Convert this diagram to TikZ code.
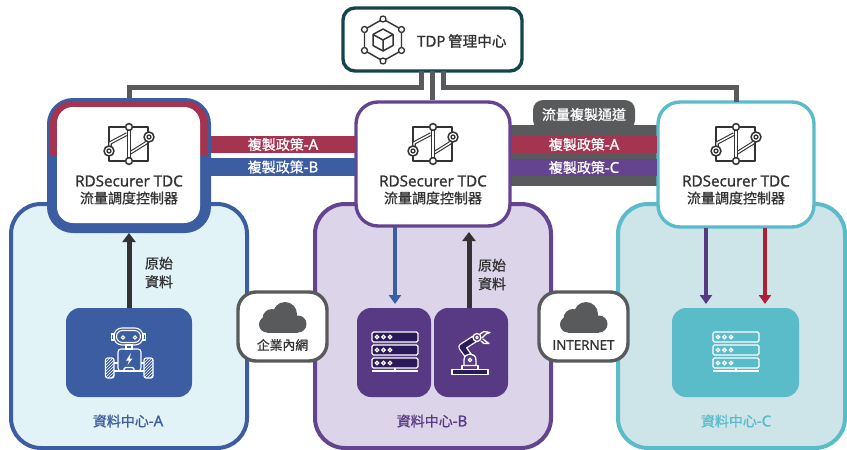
\documentclass[tikz,border=0pt]{standalone}
\usepackage{fontspec}
\setmainfont{Open Sans}
\newfontfamily\cjk[FakeBold=0.9]{Noto Sans CJK TC}
\newfontfamily\lat[FakeBold=1.5]{Open Sans}
\usetikzlibrary{arrows.meta,patterns}
\definecolor{ink}{HTML}{333335}
\definecolor{grayline}{HTML}{595A5C}
\definecolor{teal}{HTML}{14444C}
\definecolor{blueA}{HTML}{3C5DA1}
\definecolor{redA}{HTML}{A4344F}
\definecolor{purpleB}{HTML}{65448F}
\definecolor{purpleD}{HTML}{583A84}
\definecolor{purpleDD}{HTML}{2A1A5A}
\definecolor{cyanC}{HTML}{5BBCC9}
\definecolor{fillA}{HTML}{E2F3F8}
\definecolor{fillB}{HTML}{DCD4E8}
\definecolor{fillC}{HTML}{CDE4E9}
\definecolor{arrowRed}{HTML}{B01E36}
\tikzset{
  boxat/.style n args={4}{minimum width=#3-#1,minimum height=#4-#2,inner sep=0pt,outer sep=0pt},
  dcbox/.style={rectangle,rounded corners=30pt,line width=4pt},
  tdcbox/.style={rectangle,rounded corners=22pt,line width=3.4pt,fill=white},
  srcbox/.style={rectangle,rounded corners=14pt,inner sep=0pt},
  cloudbox/.style={rectangle,rounded corners=18pt,line width=3.4pt,draw=grayline,fill=white},
  trunk/.style={draw=grayline,line width=5pt},
  flow/.style={line width=3.8pt,-{Triangle[length=9pt,width=12pt]}},
  rawflow/.style={draw=ink,line width=5pt,-{Triangle[length=9pt,width=13pt]}},
  band/.style={rectangle,inner sep=0pt,text=white},
  zh/.style={font=\cjk\fontsize{14}{16}\selectfont},
  zhsmall/.style={font=\cjk\fontsize{12.8}{15}\selectfont},
  en/.style={font=\lat\fontsize{15.2}{16}\selectfont},
}
\newcommand{\lt}[1]{{\lat\fontsize{15}{16}\selectfont #1}}
% TDC icon centred on #1,#2
\newcommand{\tdcicon}[2]{%
  \begin{scope}[shift={(#1,#2)},line join=round]
    \draw[ink,line width=1.4pt] (-20,-17) rectangle (19,17);
    \foreach \pth in {{(-19,7) -- (-19,-1) -- (-2,-10)},{(20,-7) -- (17,-1) -- (1,9)},{(0,-17) -- (0,17)}}{
      \draw[ink,line width=3.6pt] \pth;
      \draw[white,line width=1.4pt] \pth;
    }
    \foreach \q in {-17,17}{\draw[ink,line width=1.5pt,fill=white] (0,\q) circle (3.4);}
    \foreach \p/\q in {-20/7,20/-7}{
      \draw[ink,line width=1.5pt,fill=white] (\p,\q) circle (5);
      \draw[ink,line width=1.3pt,fill=white] (\p,\q) circle (2);}
  \end{scope}}
% Server rack icon
\newcommand{\rackicon}[3]{%
  \begin{scope}[shift={(#1,#2)}]
    \foreach \y in {0,13,26}{
      \draw[white,line width=1.3pt,fill=#3,rounded corners=1.5pt] (0,\y) rectangle (46,\y+10);
      \foreach \x in {5,11.5,18}{\draw[white,line width=1.2pt,fill=#3] (\x,\y+5) circle (1.7);}
    }
    \draw[white,line width=1.3pt] (0,39) -- (46,39);
    \draw[white,line width=1.3pt] (23,36) -- (23,39);
  \end{scope}}
\begin{document}
\begin{tikzpicture}[x=1pt,y=-1pt]
\useasboundingbox[fill=white] (0,0) rectangle (847,450);

% data centres
\node[dcbox,draw=blueA,fill=fillA,boxat={11}{204}{247}{448}] (dcA) at (129,326) {};
\node[dcbox,draw=purpleB,fill=fillB,boxat={315}{204}{551}{448}] (dcB) at (433,326) {};
\node[dcbox,draw=cyanC,fill=fillC,boxat={618}{204}{845}{448}] (dcC) at (731.5,326) {};

% channel body on the right (behind)
\node[rectangle,fill=grayline,inner sep=0pt,boxat={511}{125}{657}{186}] (channel) at (584,155.5) {};
\fill[grayline,rounded corners=10pt] (533,130) -- (533,100) -- (635,100) -- (635,130) -- cycle;
\node[zh,text=white] (channelLabel) at (584,114.5) {流量複製通道};

% management centre
\node[rectangle,rounded corners=12pt,line width=3.4pt,draw=teal,fill=white,boxat={343}{8}{522}{71}] (tdp) at (432.5,39.5) {};

% TDC boxes: left one is two-coloured
\node[rectangle,rounded corners=26pt,fill=blueA,boxat={47}{98}{211}{233}] (tdcAo) at (129,165.5) {};
\begin{scope}
  \clip (40,90) rectangle (220,155);
  \fill[redA,rounded corners=23pt] (50,101) rectangle (208,230);
\end{scope}
\node[rectangle,rounded corners=16pt,fill=white,boxat={57}{107}{200}{223}] (tdcA) at (128.5,165) {};
\node[tdcbox,draw=purpleB,boxat={356}{102}{510}{226}] (tdcB) at (433,164) {};
\node[tdcbox,draw=cyanC,boxat={658}{102}{814}{227}] (tdcC) at (736,164.5) {};

% management trunks
\coordinate (tA) at (129,98);
\coordinate (tC) at (736,102);
\coordinate (tL) at (421,71);
\coordinate (tM) at (432,71);
\coordinate (tR) at (443,71);
\draw[trunk] (tL) -- (421,87) -- (129,87) -- (tA);
\draw[trunk] (tM) -- (432,100);
\draw[trunk] (tR) -- (443,87) -- (736,87) -- (tC);

% policy bands
\node[band,fill=redA,boxat={211}{136}{355}{153},zh] (bandA) at (283,144.5) {複製政策\lt{-A}};
\node[band,fill=blueA,boxat={211}{158}{355}{176},zh] (bandB) at (283,167) {複製政策\lt{-B}};
\node[band,fill=redA,boxat={511}{136}{657}{153},zh] (bandA2) at (584,144.5) {複製政策\lt{-A}};
\node[band,fill=purpleB,boxat={511}{159}{657}{176},zh] (bandC) at (584,167.5) {複製政策\lt{-C}};

% source boxes
\node[srcbox,fill=blueA,boxat={66}{308}{192}{397}] (srcA) at (129,352.5) {};
\node[srcbox,fill=purpleD,boxat={357}{308}{431}{397}] (srvB) at (394,352.5) {};
\node[srcbox,fill=purpleD,boxat={434}{308}{508}{397}] (armB) at (471,352.5) {};
\node[srcbox,fill=cyanC,boxat={672}{308}{799}{397}] (srvC) at (735.5,352.5) {};

% flows
\coordinate (aS) at (129,308); \coordinate (aE) at (129,233);
\coordinate (bS) at (395,227); \coordinate (bE) at (395,304);
\coordinate (cS) at (469,308); \coordinate (cE) at (469,232);
\coordinate (dS) at (706,228); \coordinate (dE) at (706,304);
\coordinate (eS) at (765,228); \coordinate (eE) at (765,304);
\draw[rawflow] (aS) -- (aE);
\draw[rawflow] (cS) -- (cE);
\draw[flow,draw=blueA] (bS) -- (bE);
\draw[flow,draw=purpleD] (dS) -- (dE);
\draw[flow,draw=arrowRed] (eS) -- (eE);

% texts
\node[zh,text=ink,align=center] (rawA) at (159,272.5) {原始\\[2.5pt]資料};
\node[zh,text=ink,align=center] (rawB) at (492,274.5) {原始\\[2.5pt]資料};
\node[zh,text=blueA] (lblA) at (128,421) {資料中心\lt{-A}};
\node[zh,text=purpleD] (lblB) at (432,421) {資料中心\lt{-B}};
\node[zh,text=cyanC] (lblC) at (736,421) {資料中心\lt{-C}};
\node[text=ink,inner sep=0pt,anchor=west] (tdpLabel) at (417,41) {\lt{TDP} {\cjk\fontsize{14.6}{16}\selectfont 管理中心}};
\foreach \n/\x in {A/129,B/433,C/736}{
  \tdcicon{\x}{144}
  \node[en,text=ink,inner sep=0pt] (name\n) at (\x,181) {RDSecurer TDC};
  \node[zh,text=ink,inner sep=0pt] (ctl\n) at (\x,198) {流量調度控制器};
}

% hub icon
\begin{scope}[shift={(383,40)}]
  \draw[ink,line width=1.4pt] (0,-21) -- (18.5,-10.5) -- (18.5,10.5) -- (0,21) -- (-18.5,10.5) -- (-18.5,-10.5) -- cycle;
  \foreach \p/\q in {0/-21,18.5/-10.5,18.5/10.5,0/21,-18.5/10.5,-18.5/-10.5}{
    \draw[ink,line width=1.3pt,fill=white] (\p,\q) circle (3);}
  \draw[ink,line width=1.5pt,line join=round] (0,-11) -- (10,-5.5) -- (10,5.5) -- (0,11) -- (-10,5.5) -- (-10,-5.5) -- cycle;
  \draw[ink,line width=1.5pt,line join=round] (-10,-5.5) -- (0,0) -- (10,-5.5) (0,0) -- (0,11);
\end{scope}

% robot
\begin{scope}[white,line width=1.1pt]
  \draw[rounded corners=8pt] (114,328) rectangle (143,345);
  \draw[rounded corners=6pt] (116.5,330.5) rectangle (140.5,342.5);
  \draw (123,337.5) circle (1.6) (135,337.5) circle (1.6);
  \draw (111.5,334) rectangle (114,340) (143,334) rectangle (145.5,340);
  \draw (126,345) rectangle (132,349);
  \draw[rounded corners=3pt] (118,371) -- (118,349) -- (141,349) -- (141,371) -- cycle;
  \draw (124,371) -- (124,369) -- (125.5,367.5) -- (132.5,367.5) -- (134,369) -- (134,371);
  \draw (114,371) -- (144,371);
  \draw (114,363) -- (118,363) (141,363) -- (144,363);
  \fill[white] (131,353) -- (126,360.5) -- (129,360.5) -- (127.5,365) -- (132.5,358.5) -- (129.5,358.5) -- cycle;
  \draw[rounded corners=2pt,pattern=north east lines,pattern color=white] (105.5,358) rectangle (114,378);
  \draw[rounded corners=2pt,pattern=north east lines,pattern color=white] (144,358) rectangle (153,378);
\end{scope}

% racks
\rackicon{372}{332}{purpleDD}
\rackicon{713}{332}{cyanC}

% robot arm
\begin{scope}[line join=round,line cap=round]
  \draw[white,line width=1.3pt,fill=purpleDD] (452,369.5) rectangle (488,374.5);
  \draw[white,line width=1.3pt] (462,369.5) -- (462,365.5) -- (478,365.5) -- (478,369.5);
  \draw[white,line width=7.6pt] (470,358) -- (462,347) -- (476,338);
  \draw[purpleDD,line width=5pt] (470,358) -- (462,347) -- (476,338);
  \draw[white,line width=1.3pt,fill=purpleD] (464,365.5) -- (464,360) .. controls (464,352) and (476,352) .. (476,360) -- (476,365.5) -- cycle;
  \draw[white,line width=1.3pt] (470,360) circle (1.8);
  \draw[white,line width=1.3pt,fill=purpleD] (477,337.5) circle (4);
  \draw[white,line width=1.1pt] (477,337.5) circle (1.3);
  \draw[white,line width=1.3pt] (480,334) -- (484,331.5) -- (490,332.5) -- (486,334) -- (482,338);
  \draw[white,line width=1.3pt] (481,341) -- (484,343.5) -- (489,343.5) -- (486,341.5) -- (483,339);
\end{scope}

% cloud boxes
\node[cloudbox,boxat={238}{292}{327}{361}] (intra) at (282.5,326.5) {};
\node[cloudbox,boxat={539}{292}{628}{361}] (inet) at (583.5,326.5) {};
\foreach \d in {0,301}{
  \begin{scope}[shift={(\d,0)}]
    \fill[grayline] (285,314) circle (12) (272,318.5) circle (9.5) (267,324.5) circle (8) (298,324) circle (8.5);
    \fill[grayline] (267,316) rectangle (298,332.5);
  \end{scope}}
\node[zhsmall,text=ink,inner sep=0pt] (intraL) at (282.5,345) {企業內網};
\node[text=ink,inner sep=0pt,font=\lat\fontsize{13.4}{15}\selectfont] (inetL) at (583.5,345) {INTERNET};
\end{tikzpicture}
\end{document}
